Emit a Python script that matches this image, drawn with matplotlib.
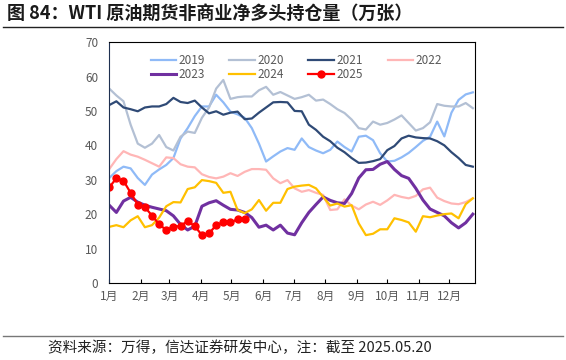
import numpy as np
import matplotlib
matplotlib.use("Agg")
import matplotlib.pyplot as plt

plt.rcParams['font.family'] = ['Noto Sans CJK SC', 'DejaVu Sans']

# weekly data, 万张
y2019 = [30.5, 32.5, 33.8, 33.3, 30.5, 28.5, 31.5, 33.0, 34.3, 36.3, 42.0, 45.0, 48.5, 51.3,
         51.3, 54.7, 52.5, 49.8, 49.0, 48.0, 45.0, 40.5, 35.3, 36.8, 38.2, 39.2, 38.7, 42.0,
         39.5, 38.5, 37.7, 38.7, 41.1, 39.5, 38.2, 42.5, 42.8, 41.5, 37.7, 35.3, 35.5, 36.5,
         37.8, 39.5, 41.3, 42.5, 46.9, 42.6, 49.5, 53.2, 54.8, 55.4]
y2020 = [56.5, 54.5, 52.8, 46.0, 40.5, 39.3, 40.5, 43.0, 39.5, 38.5, 42.5, 44.0, 43.6, 48.0,
         51.0, 56.5, 59.0, 53.5, 54.0, 54.2, 54.2, 56.0, 57.0, 54.7, 55.5, 54.5, 53.5, 54.0,
         54.7, 53.0, 53.3, 52.0, 50.5, 49.4, 47.5, 45.0, 44.6, 46.9, 46.0, 46.5, 47.5, 48.7,
         46.5, 44.3, 45.0, 46.7, 52.0, 51.5, 51.3, 51.3, 52.3, 50.8]
y2021 = [51.7, 52.8, 51.0, 50.5, 49.9, 51.0, 51.3, 51.3, 52.0, 53.8, 52.6, 52.3, 53.0, 51.0,
         49.3, 49.9, 48.9, 49.5, 49.8, 47.6, 47.8, 49.5, 51.0, 52.5, 52.6, 52.5, 50.0, 49.9,
         46.0, 44.5, 42.5, 41.2, 39.3, 38.0, 36.3, 34.9, 35.0, 35.4, 36.0, 38.6, 39.8, 42.0,
         42.8, 42.3, 42.1, 42.0, 41.2, 40.0, 38.0, 36.3, 34.3, 33.8]
y2022 = [33.1, 36.0, 38.3, 37.3, 36.7, 35.8, 34.8, 33.8, 36.5, 36.3, 34.5, 33.8, 33.6, 31.6,
         30.8, 30.4, 30.9, 31.9, 31.1, 32.3, 33.1, 33.1, 32.9, 30.4, 29.0, 29.9, 27.5, 26.5,
         27.0, 26.2, 25.6, 21.2, 21.4, 24.3, 22.5, 21.4, 22.8, 23.6, 22.7, 24.0, 25.6, 25.0,
         24.6, 25.3, 27.2, 27.7, 24.8, 23.8, 23.1, 22.9, 23.5, 24.6]
y2023 = [22.6, 20.5, 23.8, 24.9, 23.5, 22.6, 22.0, 21.5, 21.0, 19.5, 17.0, 15.4, 16.5, 22.3,
         23.3, 23.9, 22.6, 21.4, 21.2, 20.5, 19.0, 16.2, 16.8, 15.4, 16.8, 14.5, 14.0, 17.5,
         20.5, 22.8, 25.0, 24.0, 23.3, 23.1, 26.0, 30.5, 32.9, 33.0, 34.5, 35.3, 33.0, 31.2,
         30.4, 27.5, 24.1, 21.5, 20.5, 19.5, 17.5, 16.0, 17.5, 20.0]
y2024 = [16.3, 16.8, 16.2, 18.2, 19.4, 16.2, 16.8, 19.0, 22.3, 23.5, 23.4, 27.3, 27.8, 29.9,
         29.6, 29.1, 26.2, 26.5, 21.2, 20.3, 21.4, 24.1, 21.0, 23.3, 23.3, 27.3, 28.0, 28.3,
         28.5, 27.5, 25.0, 22.5, 23.1, 22.2, 22.6, 17.3, 13.9, 14.3, 15.6, 15.6, 18.8, 18.3,
         17.6, 14.9, 19.4, 19.1, 19.6, 20.0, 20.2, 18.8, 22.9, 24.6]
y2025 = [27.8, 30.4, 29.7, 26.2, 22.8, 22.0, 19.6, 17.0, 15.4, 16.3, 16.6, 18.0, 16.5, 13.9,
         14.4, 16.8, 17.6, 17.6, 18.5, 18.7]

month_labels = ['1月', '2月', '3月', '4月', '5月', '6月', '7月', '8月', '9月', '10月', '11月', '12月']
month_days = [0, 31, 59, 90, 120, 151, 181, 212, 243, 273, 304, 334]

series = [
    ('2019', y2019, '#8FBAF7', 1.6),
    ('2020', y2020, '#B3C0D4', 1.6),
    ('2021', y2021, '#2F4A76', 1.6),
    ('2022', y2022, '#FFB6B6', 1.6),
    ('2023', y2023, '#7030A0', 2.2),
    ('2024', y2024, '#FFC000', 1.6),
]

fig = plt.figure(figsize=(5.66, 3.6), dpi=100)
ax = fig.add_axes([0.193, 0.214, 0.646, 0.669])

handles = {}
for name, vals, col, lw in series:
    x = np.arange(len(vals)) * 7
    h, = ax.plot(x, vals, color=col, linewidth=lw, label=name, solid_joinstyle='round')
    handles[name] = h

x25 = np.arange(len(y2025)) * 7
h, = ax.plot(x25, y2025, color='#FF0000', linewidth=1.6, marker='o', markersize=5, label='2025')
handles['2025'] = h

ax.set_xlim(0, 359)
ax.set_ylim(0, 70)
ax.set_yticks(np.arange(0, 71, 10))
ax.set_xticks(month_days)
ax.set_xticklabels(month_labels)
ax.tick_params(axis='y', length=0, labelsize=8.5, labelcolor='#595959', pad=8)
ax.tick_params(axis='x', direction='in', length=3, labelsize=8.5, labelcolor='#595959', pad=5)
for s in ax.spines.values():
    s.set_linewidth(0.8)
    s.set_color('black')
ax.spines['left'].set_color('#1F3050')

order = ['2019', '2023', '2020', '2024', '2021', '2025', '2022']
ax.legend([handles[k] for k in order], order, ncol=4, loc='upper left',
          bbox_to_anchor=(0.1, 0.97), frameon=False, fontsize=8.5, labelcolor='#595959',
          handlelength=2.2, handletextpad=0.2, columnspacing=2.05, labelspacing=0.05,
          borderaxespad=0.0)

fig.text(0.012, 0.963, '图 84：WTI 原油期货非商业净多头持仓量（万张）', fontsize=13,
         fontweight='bold', color='#1a1a1a', va='center', ha='left')
fig.add_artist(plt.Line2D([0.005, 0.995], [0.925, 0.925], color='#222222', linewidth=1.0,
                          transform=fig.transFigure))
fig.add_artist(plt.Line2D([0.005, 0.995], [0.067, 0.067], color='#777777', linewidth=1.0,
                          transform=fig.transFigure))
fig.text(0.085, 0.035, '资料来源：万得，信达证券研发中心，注：截至 2025.05.20', fontsize=10.5,
         style='italic', color='#222222', va='center', ha='left')

fig.savefig('out.png', dpi=100)
